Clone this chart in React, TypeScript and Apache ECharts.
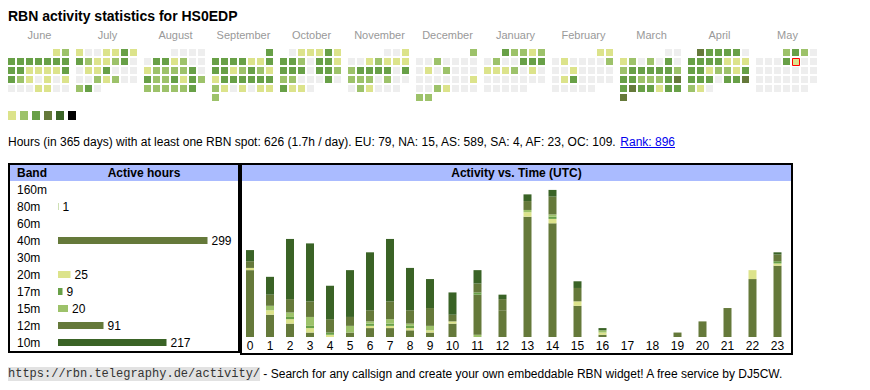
import React, { useEffect, useRef } from "react";
import * as echarts from "echarts";

const FONT = '"Liberation Sans", Arial, sans-serif';
const MONO = '"Liberation Mono", "Courier New", monospace';

const TITLE = "RBN activity statistics for HS0EDP";
const SUMMARY =
  "Hours (in 365 days) with at least one RBN spot: 626 (1.7h / day). EU: 79, NA: 15, AS: 589, SA: 4, AF: 23, OC: 109. ";
const RANK = "Rank: 896";
const FOOTER_URL = "https://rbn.telegraphy.de/activity/";
const FOOTER_TEXT =
  " - Search for any callsign and create your own embeddable RBN widget! A free service by DJ5CW.";

// ---- calendar ----
const MONTHS = ["June", "July", "August", "September", "October", "November", "December", "January", "February", "March", "April", "May"];
const FIRST_YEAR = 2024;
const FIRST_MONTH = 5; // June, 0-based
const TODAY = { year: 2025, month: 4, day: 9 };

const LEVEL_COLORS = ["#eeeeee", "#dce38b", "#9dc26a", "#68a047", "#65793a", "#3a6326", "#000000"];
const LEGEND_LEVELS = [1, 2, 3, 4, 5, 6];

// activity level per day (0 = none)
const JUN = [1, 2, 3, 3, 3, 3, 3, 3, 3, 3, 3, 1, 1, 1, 1, 3, 3, 2, 1, 0, 1, 0, 1, 0, 0, 0, 1, 1, 0, 0];
const JUL = [1, 0, 0, 1, 1, 3, 1, 3, 2, 1, 1, 2, 3, 0, 0, 1, 1, 3, 0, 0, 0, 0, 0, 2, 1, 2, 0, 0, 2, 3, 0];
const AUG = [0, 0, 0, 0, 0, 3, 3, 1, 2, 0, 0, 1, 2, 2, 2, 2, 3, 0, 3, 2, 2, 3, 1, 3, 2, 2, 2, 2, 2, 2, 3];
const SEP = [3, 3, 3, 3, 3, 1, 1, 3, 3, 3, 1, 2, 3, 2, 1, 1, 3, 3, 3, 3, 3, 3, 2, 1, 0, 1, 0, 1, 1, 2];
const OCT = [0, 1, 1, 1, 3, 1, 3, 3, 2, 0, 3, 3, 1, 3, 3, 3, 0, 3, 3, 2, 2, 2, 0, 0, 0, 3, 0, 3, 1, 1, 0];
const NOV = [0, 0, 1, 0, 0, 1, 2, 1, 1, 1, 2, 3, 3, 3, 3, 0, 3, 2, 2, 2, 0, 2, 0, 0, 0, 2, 1, 0, 0, 0];
const DEC = [2, 0, 0, 2, 0, 0, 0, 0, 0, 1, 0, 2, 0, 0, 0, 0, 0, 0, 0, 0, 0, 1, 0, 0, 2, 1, 0, 0, 0, 2, 2];
const JAN = [3, 2, 2, 1, 2, 0, 2, 0, 0, 3, 3, 3, 1, 1, 1, 2, 0, 1, 0, 0, 0, 0, 0, 0, 0, 0, 0, 0, 0, 0, 0];
const FEB = [1, 1, 0, 1, 0, 0, 0, 0, 2, 0, 0, 1, 0, 0, 0, 0, 0, 1, 3, 0, 0, 0, 0, 0, 0, 0, 0, 0];
const MAR = [0, 0, 1, 2, 0, 2, 0, 3, 0, 2, 3, 3, 3, 3, 3, 2, 3, 3, 2, 2, 2, 3, 4, 3, 4, 3, 3, 1, 3, 3, 4];
const APR = [4, 3, 3, 3, 3, 0, 3, 3, 3, 3, 1, 1, 1, 3, 3, 1, 2, 2, 1, 3, 3, 3, 3, 0, 3, 3, 4, 2, 1, 0];
const MAY = [2, 3, 2, 0, 0, 0, 0, 3, 1, 0, 0, 0, 0, 0, 0, 0, 0, 0, 0, 0, 0, 0, 0, 0, 0, 0, 0, 0, 0, 0, 0];
const MONTH_LEVELS = [JUN, JUL, AUG, SEP, OCT, NOV, DEC, JAN, FEB, MAR, APR, MAY];

// ---- bands ----
const BANDS = ["160m", "80m", "60m", "40m", "30m", "20m", "17m", "15m", "12m", "10m"];
const BAND_HOURS = [0, 1, 0, 299, 0, 25, 9, 20, 91, 217];
const BAND_COLORS = ["#9dc26a", "#9dc26a", "#9dc26a", "#65793a", "#68a047", "#dce38b", "#68a047", "#9dc26a", "#65793a", "#3a6326"];

// ---- activity vs time ----
const HOURS = ["0", "1", "2", "3", "4", "5", "6", "7", "8", "9", "10", "11", "12", "13", "14", "15", "16", "17", "18", "19", "20", "21", "22", "23"];
const H_80M = [0, 0, 0, 0, 0, 0, 0, 0, 0, 0, 0, 1, 0, 0, 0, 0, 0, 0, 0, 0, 0, 0, 0, 0];
const H_40M = [30, 10, 6, 2, 0, 2, 4, 4, 3, 2, 6, 18, 12, 54, 51, 14, 1, 0, 0, 2, 7, 13, 26, 32];
const H_20M = [1, 2, 2, 2, 1, 0, 1, 1, 1, 1, 1, 0, 0, 2, 2, 2, 1, 0, 0, 0, 0, 0, 4, 1];
const H_17M = [0, 0, 1, 1, 1, 0, 1, 1, 1, 0, 0, 1, 0, 0, 1, 0, 0, 0, 0, 0, 0, 0, 0, 1];
const H_15M = [0, 2, 2, 4, 0, 3, 1, 2, 1, 2, 0, 0, 0, 1, 1, 0, 1, 0, 0, 0, 0, 0, 0, 0];
const H_12M = [3, 5, 6, 7, 6, 4, 5, 8, 6, 8, 3, 4, 5, 4, 8, 6, 0, 0, 0, 0, 0, 0, 0, 3];
const H_10M = [5, 8, 27, 26, 15, 21, 26, 28, 19, 13, 10, 6, 2, 3, 3, 3, 1, 0, 0, 0, 0, 0, 0, 1];
const STACK_ORDER = [
  { band: "80m", values: H_80M, color: "#9dc26a" },
  { band: "40m", values: H_40M, color: "#65793a" },
  { band: "20m", values: H_20M, color: "#dce38b" },
  { band: "17m", values: H_17M, color: "#68a047" },
  { band: "15m", values: H_15M, color: "#9dc26a" },
  { band: "12m", values: H_12M, color: "#65793a" },
  { band: "10m", values: H_10M, color: "#3a6326" },
];

function measure(text: string, font: string): number {
  const ctx = document.createElement("canvas").getContext("2d");
  if (!ctx) return text.length * 6;
  ctx.font = font;
  return ctx.measureText(text).width;
}

export default function App() {
  const ref = useRef<HTMLDivElement>(null);

  useEffect(() => {
    if (!ref.current) return;
    const chart = echarts.init(ref.current, undefined, { renderer: "svg" });

    // calendar layout
    const CELL = 9;
    const GAP = 5;
    const SPAN = 7 + GAP / CELL;
    const CAL_MAX = 12 * SPAN - GAP / CELL;
    const calData: number[][] = [];
    MONTH_LEVELS.forEach((levels, m) => {
      const yr = FIRST_YEAR + Math.floor((FIRST_MONTH + m) / 12);
      const mo = (FIRST_MONTH + m) % 12;
      const firstDow = (new Date(yr, mo, 1).getDay() + 6) % 7;
      levels.forEach((lvl, i) => {
        const dow = (firstDow + i) % 7;
        const row = Math.floor((firstDow + i) / 7);
        const isToday = yr === TODAY.year && mo === TODAY.month && i + 1 === TODAY.day ? 1 : 0;
        calData.push([m * SPAN + dow, row, lvl, isToday]);
      });
    });
    const monthData = MONTHS.map((_, m) => [m * SPAN + 3.5, 0]);

    // hour columns: width proportional to label length
    const colUnits = HOURS.map((h) => 3 + h.length);
    const hourCenters: number[] = [];
    let acc = 0;
    colUnits.forEach((u) => {
      hourCenters.push(acc + u / 2);
      acc += u;
    });
    const HOUR_TOTAL = acc;

    const summaryW = measure(SUMMARY, `12px "Liberation Sans"`);
    const rankW = measure(RANK, `12px "Liberation Sans"`);
    const urlW = measure(FOOTER_URL, `12px "Liberation Mono"`);

    const txt = (text: string, x: number, y: number, opts: any = {}) => ({
      type: "text",
      x,
      y,
      style: {
        text,
        fill: opts.fill || "#000",
        fontSize: opts.fontSize || 12,
        fontFamily: opts.fontFamily || FONT,
        fontWeight: opts.fontWeight || "normal",
        align: opts.align || "left",
        textAlign: opts.align || "left",
        verticalAlign: "middle",
        textVerticalAlign: "middle",
      },
    });

    const graphics: any[] = [
      txt(TITLE, 8, 16, { fontSize: 14, fontWeight: "bold" }),
      ...LEGEND_LEVELS.map((lvl, i) => ({
        type: "rect",
        shape: { x: 8 + i * 12, y: 111, width: 8, height: 9 },
        style: { fill: LEVEL_COLORS[lvl] },
      })),
      txt(SUMMARY, 8, 142),
      txt(RANK, 8 + summaryW, 142, { fill: "#0000ee" }),
      {
        type: "line",
        shape: { x1: 8 + summaryW, y1: 147.5, x2: 8 + summaryW + rankW, y2: 147.5 },
        style: { stroke: "#0000ee", lineWidth: 1 },
      },
      // band box
      { type: "rect", shape: { x: 10, y: 165, width: 228, height: 16 }, style: { fill: "#aabbff" } },
      { type: "rect", shape: { x: 9, y: 164, width: 230, height: 188 }, style: { fill: "none", stroke: "#000", lineWidth: 2 } },
      txt("Band", 17, 173, { fontWeight: "bold" }),
      txt("Active hours", 144, 173, { fontWeight: "bold", align: "center" }),
      // activity box
      { type: "rect", shape: { x: 242, y: 165, width: 549, height: 16 }, style: { fill: "#aabbff" } },
      { type: "rect", shape: { x: 241, y: 164, width: 551, height: 190 }, style: { fill: "none", stroke: "#000", lineWidth: 2 } },
      txt("Activity vs. Time (UTC)", 516.5, 173, { fontWeight: "bold", align: "center" }),
      // footer
      { type: "rect", shape: { x: 8, y: 367, width: urlW, height: 14 }, style: { fill: "#e2e2e2" } },
      txt(FOOTER_URL, 8, 374, { fontFamily: MONO, fill: "#333" }),
      txt(FOOTER_TEXT, 8 + urlW, 374),
    ];

    const option: any = {
      animation: false,
      textStyle: { fontFamily: FONT },
      grid: [
        { left: 8, top: 49, width: CAL_MAX * CELL, height: 6 * CELL },
        { left: 58, top: 181, width: 160, height: 170 },
        { left: 240, top: 181, width: 550, height: 156 },
      ],
      xAxis: [
        { gridIndex: 0, type: "value", min: 0, max: CAL_MAX, show: false },
        { gridIndex: 1, type: "value", min: 0, max: 320, show: false },
        { gridIndex: 2, type: "value", min: 0, max: HOUR_TOTAL, show: false },
      ],
      yAxis: [
        { gridIndex: 0, type: "value", min: 0, max: 6, inverse: true, show: false },
        {
          gridIndex: 1,
          type: "category",
          data: BANDS,
          inverse: true,
          axisLine: { show: false },
          axisTick: { show: false },
          splitLine: { show: false },
          axisLabel: { align: "left", margin: 41, fontSize: 12, color: "#000", fontFamily: FONT },
        },
        { gridIndex: 2, type: "value", min: 0, max: 70, show: false },
      ],
      graphic: { elements: graphics },
      series: [
        {
          type: "custom",
          xAxisIndex: 0,
          yAxisIndex: 0,
          data: calData,
          renderItem: (params: any, api: any) => {
            const p = api.coord([api.value(0), api.value(1)]);
            const s = api.size([1, 1]);
            const w = s[0] - 2;
            const h = s[1] - 2;
            const children: any[] = [
              { type: "rect", shape: { x: p[0], y: p[1], width: w, height: h }, style: { fill: LEVEL_COLORS[api.value(2)] } },
            ];
            if (api.value(3) === 1) {
              children.push({
                type: "rect",
                shape: { x: p[0] + 0.5, y: p[1] + 0.5, width: w, height: h },
                style: { fill: "none", stroke: "#ff0000", lineWidth: 1 },
              });
            }
            return { type: "group", children };
          },
        },
        {
          type: "custom",
          xAxisIndex: 0,
          yAxisIndex: 0,
          data: monthData,
          renderItem: (params: any, api: any) => {
            const p = api.coord([api.value(0), 0]);
            return {
              type: "text",
              x: p[0],
              y: p[1] - 14,
              style: {
                text: MONTHS[params.dataIndex],
                fill: "#999999",
                fontSize: 11,
                fontFamily: FONT,
                align: "center",
                textAlign: "center",
                verticalAlign: "middle",
                textVerticalAlign: "middle",
              },
            };
          },
        },
        {
          type: "bar",
          xAxisIndex: 1,
          yAxisIndex: 1,
          barWidth: 7,
          data: BAND_HOURS.map((v, i) => ({ value: v, itemStyle: { color: BAND_COLORS[i] } })),
          label: {
            show: true,
            position: "right",
            distance: 4,
            fontSize: 12,
            fontFamily: FONT,
            color: "#000",
            formatter: (p: any) => (p.value > 0 ? String(p.value) : ""),
          },
        },
        ...STACK_ORDER.map((b) => ({
          type: "bar",
          name: b.band,
          xAxisIndex: 2,
          yAxisIndex: 2,
          stack: "hours",
          barWidth: 8,
          itemStyle: { color: b.color },
          // value first so that the value dimension is the one stacked
          encode: { x: 1, y: 0 },
          data: b.values.map((v, i) => [v, hourCenters[i]]),
        })),
        {
          type: "custom",
          xAxisIndex: 2,
          yAxisIndex: 2,
          data: HOURS.map((_, i) => [hourCenters[i], 0]),
          renderItem: (params: any, api: any) => {
            const p = api.coord([api.value(0), 0]);
            return {
              type: "text",
              x: p[0],
              y: p[1] + 9,
              style: {
                text: HOURS[params.dataIndex],
                fill: "#000",
                fontSize: 12,
                fontFamily: FONT,
                align: "center",
                textAlign: "center",
                verticalAlign: "middle",
                textVerticalAlign: "middle",
              },
            };
          },
        },
      ],
    };
    chart.setOption(option);
    return () => chart.dispose();
  }, []);

  return <div ref={ref} style={{ position: "absolute", left: 0, top: 0, width: 870, height: 390 }} />;
}
